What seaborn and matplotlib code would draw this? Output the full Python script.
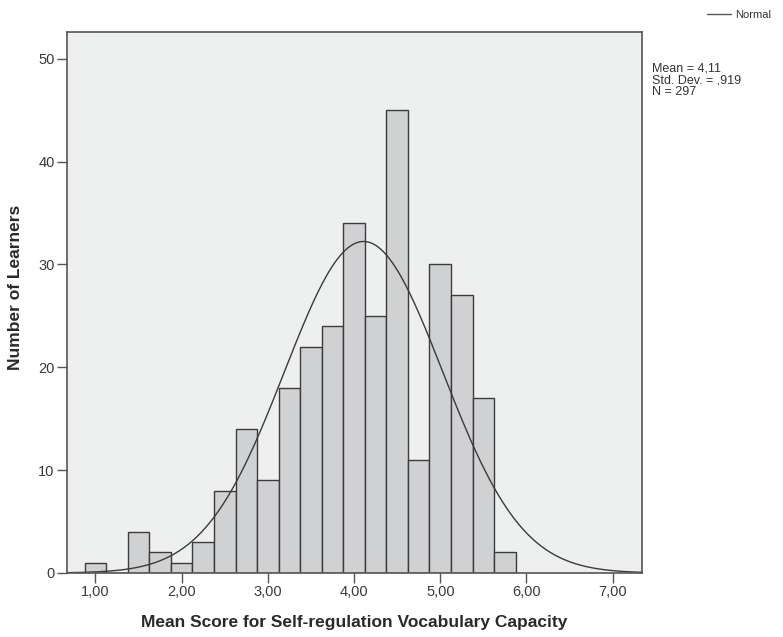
import numpy as np
import pandas as pd
import matplotlib
matplotlib.use("Agg")
import matplotlib.pyplot as plt
from matplotlib.lines import Line2D
import seaborn as sns

# Histogram of mean scores (bin width 0,25)
bin_edges = [0.875, 1.125, 1.375, 1.625, 1.875, 2.125, 2.375, 2.625, 2.875, 3.125,
             3.375, 3.625, 3.875, 4.125, 4.375, 4.625, 4.875, 5.125, 5.375, 5.625, 5.875]
counts = [1, 0, 4, 2, 1, 3, 8, 14, 9, 18, 22, 24, 34, 25, 45, 11, 30, 27, 17, 2]
mean_score = 4.11
std_dev = 0.919
n_total = 297

x_ticks = [1, 2, 3, 4, 5, 6, 7]
x_tick_labels = ["1,00", "2,00", "3,00", "4,00", "5,00", "6,00", "7,00"]
y_ticks = [0, 10, 20, 30, 40, 50]

sns.set_theme(style="white")
plt.rcParams["font.family"] = ["Liberation Sans", "DejaVu Sans"]

centers = [(a + b) / 2 for a, b in zip(bin_edges[:-1], bin_edges[1:])]
df = pd.DataFrame({"score": centers, "n": counts})

fig = plt.figure(figsize=(7.83, 6.37), dpi=100)
ax = fig.add_axes([0.0856, 0.1005, 0.7343, 0.8493])
ax.set_facecolor("#eef0ef")

sns.histplot(data=df, x="score", weights="n", bins=bin_edges, ax=ax,
             color="#d0d1d3", edgecolor="#3c3c3c", linewidth=1.0, alpha=1.0)

# Fitted normal curve scaled to counts
x_lo, x_hi = 0.67, 7.34
bw = bin_edges[1] - bin_edges[0]
xs = np.linspace(x_lo, x_hi, 400)
ys = n_total * bw / (std_dev * np.sqrt(2 * np.pi)) * np.exp(-0.5 * ((xs - mean_score) / std_dev) ** 2)
sns.lineplot(x=xs, y=ys, ax=ax, color="#3a3a3a", linewidth=1.0)

ax.set_xlim(x_lo, x_hi)
ax.set_ylim(0, 52.6)
ax.set_xticks(x_ticks)
ax.set_xticklabels(x_tick_labels)
ax.set_yticks(y_ticks)
ax.tick_params(axis="both", which="both", direction="out", length=7, width=1,
               color="#555555", labelsize=10.5, labelcolor="#3a3a3a",
               bottom=True, left=True, pad=2)
for s in ax.spines.values():
    s.set_color("#555555")
    s.set_linewidth(1.2)

ax.set_xlabel("Mean Score for Self-regulation Vocabulary Capacity",
              fontsize=12.5, fontweight="bold", color="#2a2a2a", labelpad=11)
ax.set_ylabel("Number of Learners", fontsize=12.5, fontweight="bold",
              color="#2a2a2a")
ax.yaxis.set_label_coords(-0.077, 0.527)

# Legend for the normal curve
handle = Line2D([0], [0], color="#555555", linewidth=1.0)
fig.legend([handle], ["Normal"], loc="upper right", bbox_to_anchor=(0.997, 1.0),
           frameon=False, fontsize=8, handlelength=2.2, handletextpad=0.3,
           labelcolor="#333333")

fig.text(0.833, 0.902, "Mean = 4,11\nStd. Dev. = ,919\nN = 297",
         fontsize=9, color="#333333", va="top", ha="left", linespacing=1.0)

fig.savefig("out.png", dpi=100, facecolor="white")
